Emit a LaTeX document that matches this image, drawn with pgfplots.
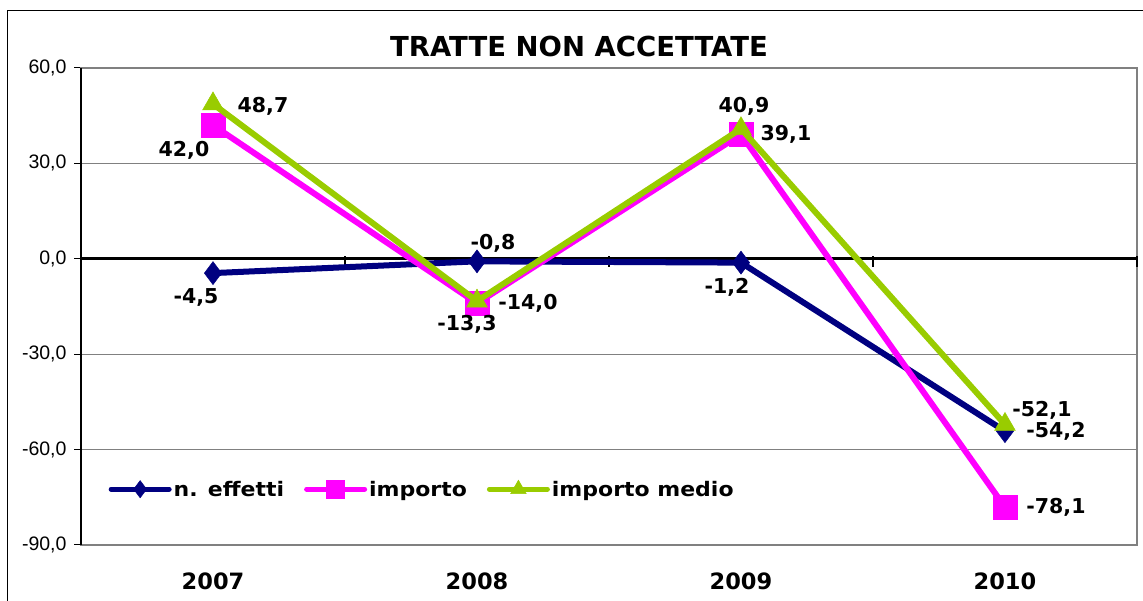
\documentclass[border=0pt]{standalone}
\usepackage{pgfplots}
\pgfplotsset{compat=1.18}
\usepackage{pgfplotstable}
\usepackage{fontspec}
\setmainfont{DejaVu Sans}
\newfontfamily\tickfont{Liberation Sans}
\newfontfamily\legfont[FakeStretch=1.1]{DejaVu Sans}

\definecolor{effetti}{RGB}{0,0,128}
\definecolor{importo}{RGB}{255,0,255}
\definecolor{medio}{RGB}{153,204,0}

% x = year index, dx/dy = label offset (pt) from the marker
\pgfplotstableread{
x y lab dx dy
0 -4.5 {-4,5} -17 -24
1 -0.8 {-0,8} 16 18
2 -1.2 {-1,2} -14 -25
3 -54.2 {-54,2} 51 0
}\effetti
\pgfplotstableread{
x y lab dx dy
0 42.0 {42,0} -29 -25
1 -14.0 {-14,0} 51 0
2 39.1 {39,1} 45 0
3 -78.1 {-78,1} 51 0
}\importo
\pgfplotstableread{
x y lab dx dy
0 48.7 {48,7} 50 -2
1 -13.3 {-13,3} -10 -23
2 40.9 {40,9} 3 22
3 -52.1 {-52,1} 37 14
}\medio

\begin{document}
\begin{tikzpicture}
\useasboundingbox (0,0) rectangle (1143pt,601pt);
\draw[black, line width=1pt] (7pt,0) -- (7pt,590pt) -- (1143pt,590pt);
\node[font=\bfseries\fontsize{27.5}{30}\selectfont, anchor=base] at (579pt,544pt) {TRATTE NON ACCETTATE};
\begin{axis}[
    at={(81pt,56pt)}, anchor=south west,
    scale only axis,
    width=1056pt, height=477pt,
    xmin=-0.5, xmax=3.5,
    ymin=-90, ymax=60,
    xtick={0,1,2,3},
    xticklabels={2007,2008,2009,2010},
    x tick style={draw=none},
    xticklabel style={font=\bfseries\fontsize{22.5}{26}\selectfont, yshift=-17pt},
    ytick={-90,-60,-30,0,30,60},
    yticklabels={{-90,0},{-60,0},{-30,0},{0,0},{30,0},{60,0}},
    yticklabel style={font=\tickfont\fontsize{19.5}{22}\selectfont, xshift=-4pt},
    ytick pos=left,
    tick align=outside,
    major tick length=7pt,
    y tick style={black, line width=1pt},
    ymajorgrids,
    grid style={gray, line width=1pt},
    axis line style={gray, line width=2pt},
    clip mode=individual,
    lab/.style={
        nodes near coords,
        point meta=explicit symbolic,
        visualization depends on={\thisrow{dx} \as \labdx},
        visualization depends on={\thisrow{dy} \as \labdy},
        nodes near coords style={anchor=center, xshift=\labdx pt, yshift=\labdy pt,
            text=black, font=\bfseries\fontsize{20.5}{24}\selectfont},
    },
    legend columns=3,
    legend style={draw=none, fill=none, inner sep=0pt,
        at={(0.026,0.117)}, anchor=west,
        font=\legfont\bfseries\fontsize{20}{24}\selectfont,
        /tikz/every even column/.append style={column sep=18pt}},
    legend image code/.code={\draw[mark repeat=2,mark phase=2] plot coordinates {(0pt,0pt) (29pt,0pt) (58pt,0pt)};},
    legend image post style={line width=5pt, line cap=round, /tikz/every mark/.append style={scale=0.75}},
]
\draw[black, line width=3pt] (axis cs:-0.5,0) -- (axis cs:3.5,0);
\draw[black, line width=1.5pt] (axis cs:-0.5,-2.5) -- (axis cs:-0.5,1);
\draw[black, line width=1.5pt] (axis cs:0.5,-2.5) -- (axis cs:0.5,1);
\draw[black, line width=1.5pt] (axis cs:1.5,-2.5) -- (axis cs:1.5,1);
\draw[black, line width=1.5pt] (axis cs:2.5,-2.5) -- (axis cs:2.5,1);
\draw[black, line width=1.5pt] (axis cs:3.5,-2.5) -- (axis cs:3.5,1);
\draw[black, line width=1.5pt] (rel axis cs:0,0) -- (rel axis cs:0,1);

\addplot[effetti, line width=6pt, mark=diamond*, mark size=11.5pt,
    mark options={solid, fill=effetti, line width=0.5pt}, lab]
    table[x=x, y=y, meta=lab] {\effetti};
\addplot[importo, line width=6pt, mark=square*, mark size=12pt,
    mark options={solid, fill=importo, line width=0.5pt}, lab]
    table[x=x, y=y, meta=lab] {\importo};
\addplot[medio, line width=6pt, mark=triangle*, mark size=12pt,
    mark options={solid, fill=medio, line width=0.5pt}, lab]
    table[x=x, y=y, meta=lab] {\medio};
\legend{n. effetti, importo, importo medio}
\end{axis}
\end{tikzpicture}
\end{document}
